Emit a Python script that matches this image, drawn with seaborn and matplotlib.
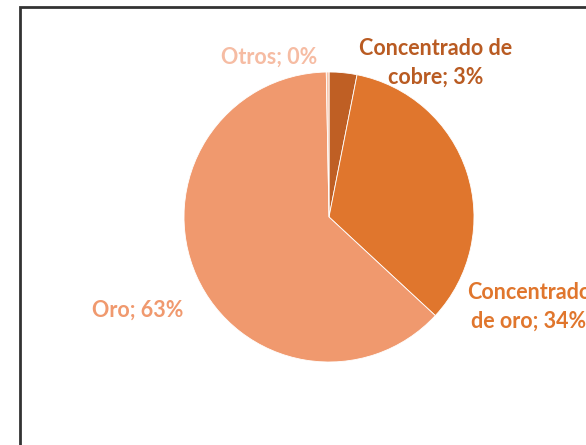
import matplotlib.pyplot as plt
import seaborn as sns

# datos del gráfico (orden horario desde las 12)
categorias = ["Concentrado de cobre", "Concentrado de oro", "Oro", "Otros"]
porcentajes = [3.1, 33.8, 62.8, 0.3]
colores = ["#BF5F24", "#E0762D", "#F0996E", "#F7C3AA"]
colores_texto = ["#B95B22", "#E0762D", "#F0996E", "#F6BCA3"]
etiquetas = ["Concentrado de\ncobre; 3%", "Concentrado\nde oro; 34%", "Oro; 63%", "Otros; 0%"]

sns.set_theme(style="white")
plt.rcParams["font.family"] = ["Lato", "DejaVu Sans"]

W, H = 586, 445
fig = plt.figure(figsize=(W / 100, H / 100), dpi=100)
ax = fig.add_axes([0, 0, 1, 1])

ax.pie(porcentajes, colors=colores, startangle=90, counterclock=False,
       center=(329, H - 217), radius=145,
       wedgeprops=dict(edgecolor="white", linewidth=0.6))

ax.set_xlim(0, W)
ax.set_ylim(0, H)
ax.set_aspect("equal")
ax.axis("off")

# posiciones de las etiquetas (px)
pos = [(436, 63), (529, 307), (138, 310), (269, 57)]
for txt, c, (x, y) in zip(etiquetas, colores_texto, pos):
    ax.text(x, H - y, txt, color=c, fontsize=15.5, fontweight="bold",
            ha="center", va="center", multialignment="center", linespacing=1.45)

# marco del área del gráfico
ax.plot([20, 20, W], [0, H - 7, H - 7], color="#333333", lw=2, solid_joinstyle="miter")

fig.savefig("out.png", dpi=100)
